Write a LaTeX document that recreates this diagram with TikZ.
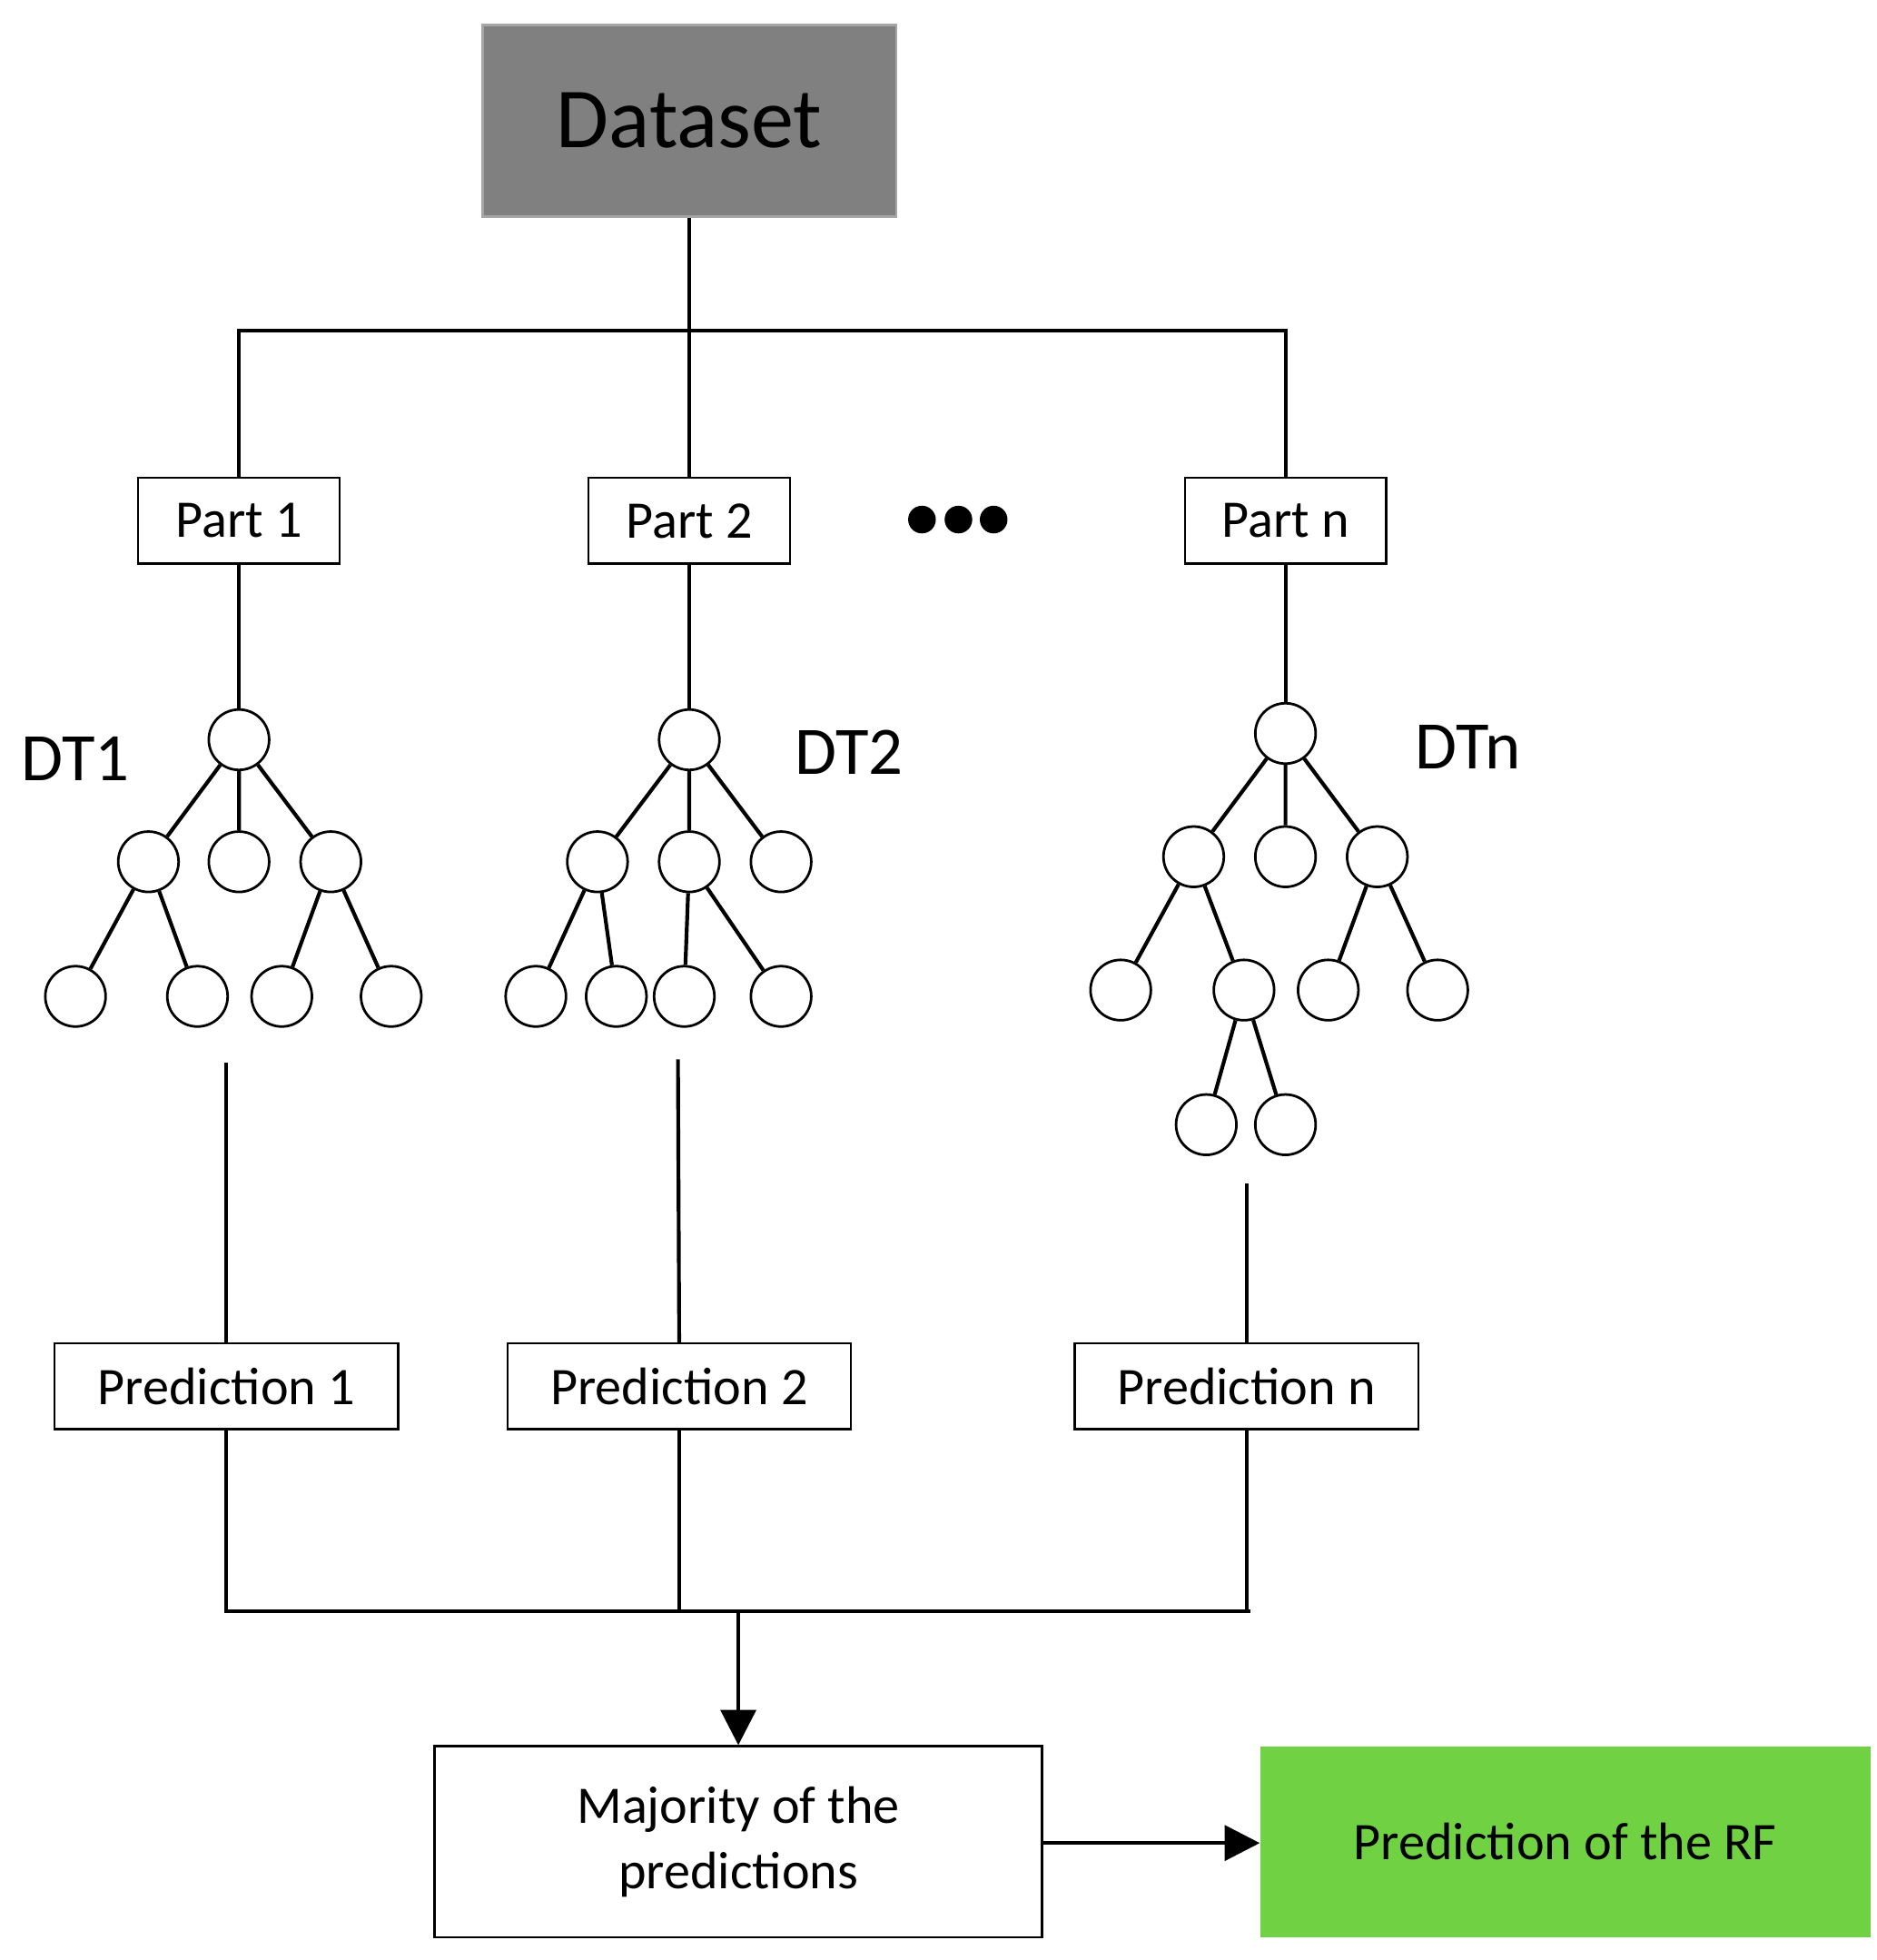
\documentclass[tikz,border=0pt]{standalone}
\usepackage{fontspec}
\setmainfont{Carlito}
\usetikzlibrary{arrows.meta}
\definecolor{rfgreen}{RGB}{112,209,67}
\begin{document}
\begin{tikzpicture}[x=0.5pt,y=-0.5pt,
  ln/.style={line width=1.5pt},
  box/.style={draw,line width=0.8pt,minimum width=80pt,minimum height=34pt,inner sep=0pt,font=\fontsize{21}{24}\selectfont},
  pbox/.style={box,minimum width=136.5pt},
  c/.style={circle,draw,line width=1pt,minimum size=24pt,inner sep=0pt},
  e/.style={line width=1.5pt},
  lbl/.style={font=\fontsize{27}{30}\selectfont}]
\useasboundingbox (0,0) rectangle (1492,1558);
\node[draw=gray!70,line width=1pt,fill=black!50,minimum width=164.5pt,minimum height=76pt,font=\fontsize{34}{38}\selectfont] (ds) at (548,96) {Dataset};
\node[box] (p1) at (190,414) {Part 1};
\node[box] (p2) at (548,414) {Part 2};
\node[box] (pn) at (1022,414) {Part n};
\foreach \x in {733,762,790} \fill (\x,413) circle (5.5pt);
\coordinate (hl) at (190,263); \coordinate (hm) at (548,263); \coordinate (hr) at (1022,263);
\draw[ln] (ds.south) -- (hm);
\draw[ln] (p1.north) -- (hl) -- (hr) -- (pn.north);
\draw[ln] (hm) -- (p2.north);
% tree 1
\node[c] (a) at (190,588) {};
\node[c] (a1) at (118,685) {}; \node[c] (a2) at (190,685) {}; \node[c] (a3) at (263,685) {};
\node[c] (a11) at (60,792) {}; \node[c] (a12) at (157,792) {}; \node[c] (a31) at (224,792) {}; \node[c] (a32) at (311,792) {};
\draw[e] (a)--(a1) (a)--(a2) (a)--(a3) (a1)--(a11) (a1)--(a12) (a3)--(a31) (a3)--(a32);
\draw[ln] (p1.south)--(a);
% tree 2
\node[c] (b) at (548,588) {};
\node[c] (b1) at (475,685) {}; \node[c] (b2) at (548,685) {}; \node[c] (b3) at (621,685) {};
\node[c] (b11) at (426,792) {}; \node[c] (b12) at (490,792) {}; \node[c] (b21) at (544,792) {}; \node[c] (b22) at (621,792) {};
\draw[e] (b)--(b1) (b)--(b2) (b)--(b3) (b1)--(b11) (b1)--(b12) (b2)--(b21) (b2)--(b22);
\draw[ln] (p2.south)--(b);
% tree n
\node[c] (n) at (1022,583) {};
\node[c] (n1) at (949,681) {}; \node[c] (n2) at (1022,681) {}; \node[c] (n3) at (1095,681) {};
\node[c] (n11) at (891,787) {}; \node[c] (n12) at (989,787) {}; \node[c] (n31) at (1056,787) {}; \node[c] (n32) at (1143,787) {};
\node[c] (n121) at (959,894) {}; \node[c] (n122) at (1022,894) {};
\draw[e] (n)--(n1) (n)--(n2) (n)--(n3) (n1)--(n11) (n1)--(n12) (n3)--(n31) (n3)--(n32) (n12)--(n121) (n12)--(n122);
\draw[ln] (pn.south)--(n);
\node[lbl] (l1) at (60,603) {DT1};
\node[lbl] (l2) at (675,598) {DT2};
\node[lbl] (ln) at (1167,594) {DTn};
% predictions
\node[pbox] (q1) at (180,1102) {Prediction 1};
\node[pbox] (q2) at (540,1102) {Prediction 2};
\node[pbox] (qn) at (991,1102) {Prediction n};
\coordinate (t1) at (180,845); \coordinate (t2) at (539,842); \coordinate (tn) at (991,941);
\draw[ln] (t1)--(q1.north); \draw[ln] (t2)--(q2.north); \draw[ln] (tn)--(qn.north);
\coordinate (j1) at (180,1281); \coordinate (j2) at (540,1281); \coordinate (jn) at (991,1281);
\coordinate (jr) at (994,1281); \coordinate (jm) at (587,1281);
\draw[ln] (q1.south)--(j1)--(jr); \draw[ln] (q2.south)--(j2); \draw[ln] (qn.south)--(jn);
\node[draw,line width=0.8pt,minimum width=241.5pt,minimum height=76pt,align=center,font=\fontsize{21}{26}\selectfont] (mj) at (587,1464) {Majority of the\\predictions};
\node[fill=rfgreen,minimum width=242.5pt,minimum height=76pt,font=\fontsize{21}{24}\selectfont] (rf) at (1244.5,1464) {Prediction of the RF};
\draw[ln,-{Triangle[length=14pt,width=14pt]}] (jm)--(mj.north);
\draw[ln,-{Triangle[length=14pt,width=14pt]}] (mj.east|-0,1465)--(rf.west|-0,1465);
\end{tikzpicture}
\end{document}
